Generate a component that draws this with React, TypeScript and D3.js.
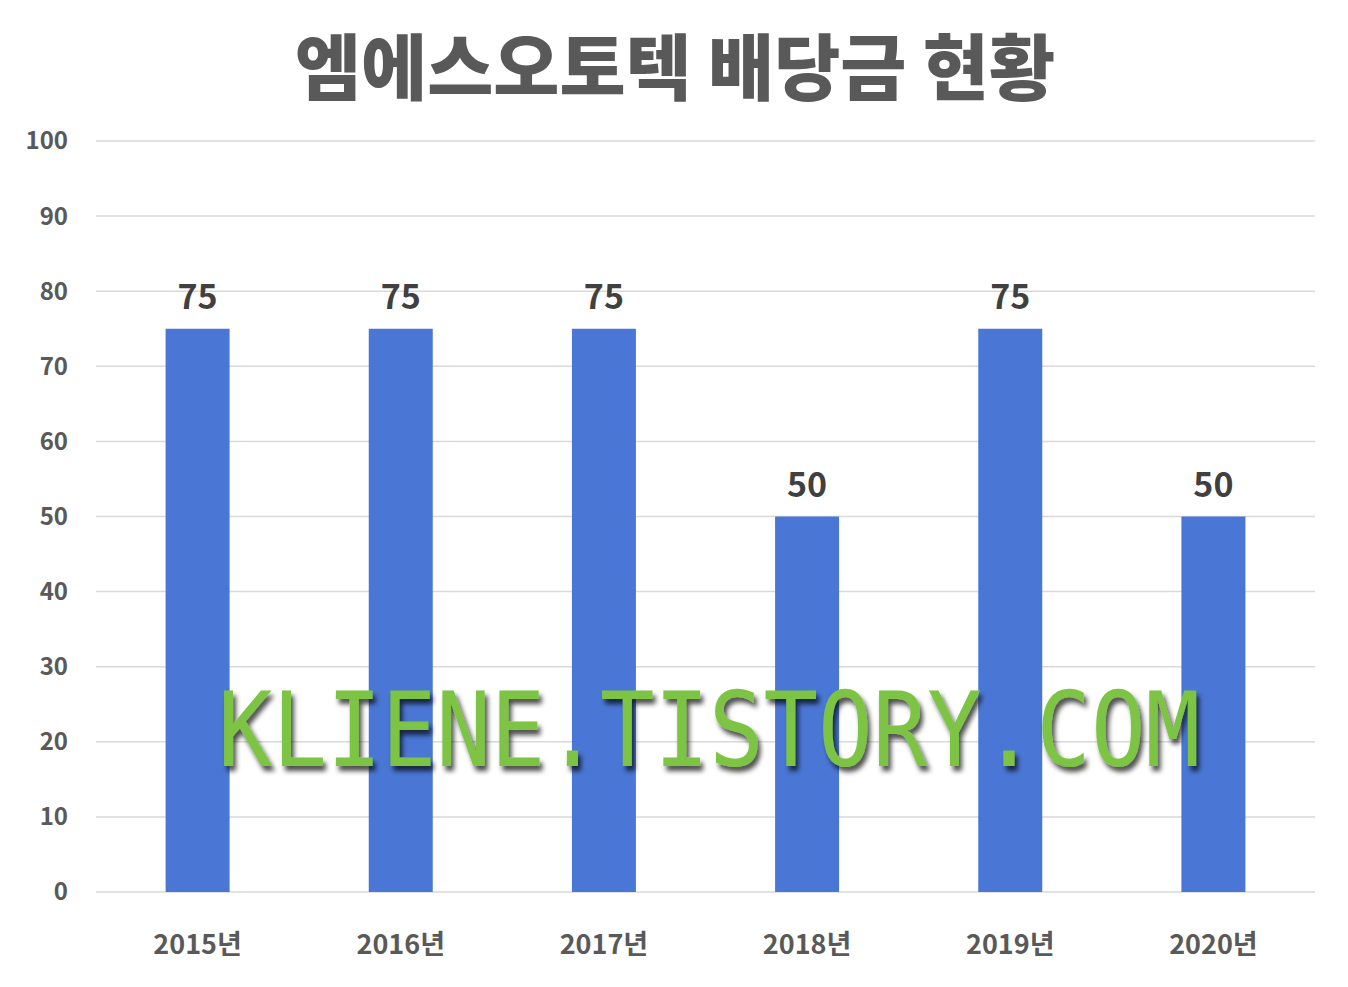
import { useEffect, useRef } from 'react'
import * as d3 from 'd3'

const title = '엠에스오토텍 배당금 현황'
const years = ['2015년', '2016년', '2017년', '2018년', '2019년', '2020년']
const dividends = [75, 75, 75, 50, 75, 50]
const yTicks = [0, 10, 20, 30, 40, 50, 60, 70, 80, 90, 100]
const watermark = 'KLIENE.TISTORY.COM'

const W = 1348
const H = 987
const FONT = '"Noto Sans CJK KR", "Noto Sans", sans-serif'

export default function App() {
  const svgRef = useRef<SVGSVGElement>(null)

  useEffect(() => {
    if (!svgRef.current) return
    const svg = d3.select(svgRef.current)
    svg.selectAll('*').remove()

    const margin = { top: 141, right: 33, bottom: 95, left: 96 }
    const width = W - margin.left - margin.right
    const height = H - margin.top - margin.bottom

    const defs = svg.append('defs')
    const shadow = defs.append('filter').attr('id', 'wmShadow')
      .attr('x', '-5%').attr('y', '-20%').attr('width', '110%').attr('height', '160%')
    shadow.append('feDropShadow')
      .attr('dx', 3).attr('dy', 5).attr('stdDeviation', 2.5)
      .attr('flood-color', '#000').attr('flood-opacity', 0.7)

    svg.append('rect').attr('width', W).attr('height', H).attr('fill', '#fff')

    svg.append('text')
      .attr('x', 675).attr('y', 94)
      .attr('text-anchor', 'middle')
      .attr('textLength', 760).attr('lengthAdjust', 'spacingAndGlyphs')
      .style('font-family', FONT).style('font-weight', 900)
      .style('font-size', '72px').style('fill', '#595959')
      .text(title)

    const g = svg.append('g').attr('transform', `translate(${margin.left},${margin.top})`)

    const x = d3.scaleBand().domain(years).range([0, width]).paddingInner(0.685).paddingOuter(0.3425)
    const y = d3.scaleLinear().domain([0, 100]).range([height, 0])

    g.selectAll('line.grid').data(yTicks).join('line')
      .attr('class', 'grid')
      .attr('x1', 0).attr('x2', width)
      .attr('y1', d => y(d)).attr('y2', d => y(d))
      .attr('stroke', '#d9d9d9').attr('stroke-width', 1.5)

    g.selectAll('text.ytick').data(yTicks).join('text')
      .attr('class', 'ytick')
      .attr('x', -28).attr('y', d => y(d)).attr('dy', '0.35em')
      .attr('text-anchor', 'end')
      .style('font-family', FONT).style('font-weight', 700)
      .style('font-size', '24px').style('fill', '#595959')
      .text(d => d)

    g.selectAll('rect.bar').data(dividends).join('rect')
      .attr('class', 'bar')
      .attr('x', (_, i) => x(years[i])!)
      .attr('width', x.bandwidth())
      .attr('y', d => y(d))
      .attr('height', d => height - y(d))
      .attr('fill', '#4a77d5')

    g.selectAll('text.val').data(dividends).join('text')
      .attr('class', 'val')
      .attr('x', (_, i) => x(years[i])! + x.bandwidth() / 2)
      .attr('y', d => y(d) - 20)
      .attr('text-anchor', 'middle')
      .style('font-family', FONT).style('font-weight', 700)
      .style('font-size', '34px').style('fill', '#404040')
      .text(d => d)

    g.selectAll('text.xtick').data(years).join('text')
      .attr('class', 'xtick')
      .attr('x', d => x(d)! + x.bandwidth() / 2)
      .attr('y', height + 62)
      .attr('text-anchor', 'middle')
      .style('font-family', FONT).style('font-weight', 700)
      .style('font-size', '27px').style('fill', '#595959')
      .text(d => d)

    // watermark with drop shadow
    svg.append('text')
      .attr('x', 218).attr('y', 766)
      .attr('textLength', 982).attr('lengthAdjust', 'spacingAndGlyphs')
      .attr('filter', 'url(#wmShadow)')
      .style('font-family', '"DejaVu Sans Mono", monospace')
      .style('font-size', '104px').style('fill', '#7dc444')
      .text(watermark)
  }, [])

  return (
    <svg ref={svgRef} width={W} height={H} style={{ display: 'block', position: 'absolute', left: 0, top: 0 }} />
  )
}
